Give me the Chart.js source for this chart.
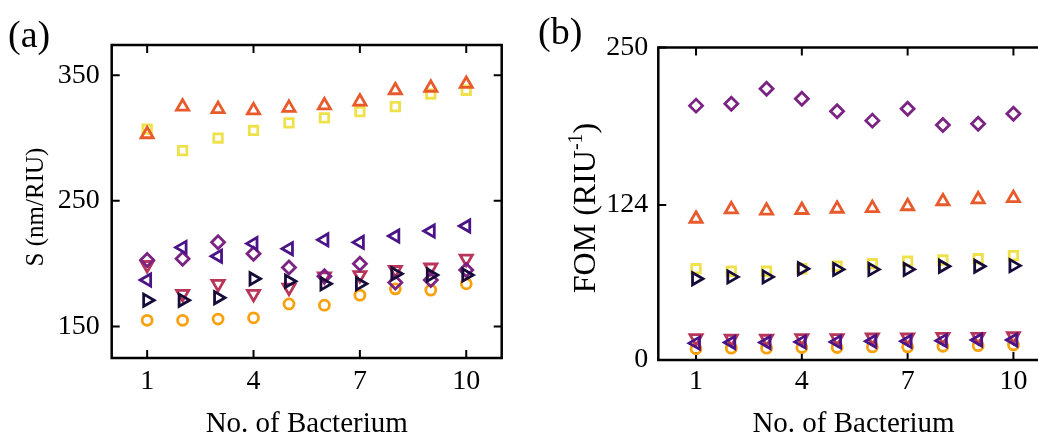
<!DOCTYPE html>
<html>
<head>
<meta charset="utf-8">
<script src="https://cdn.jsdelivr.net/npm/chart.js@4.4.0/dist/chart.umd.min.js"></script>
<style>
  html, body { margin: 0; padding: 0; background: #fff; overflow: hidden; width: 1038px; height: 442px; }
  .panel { position: absolute; top: 0; width: 530px; height: 442px; }
  #wrapA { left: 0; }
  #wrapB { left: 530px; }
</style>
</head>
<body>
<div class="panel" id="wrapA"><canvas id="chartA" width="530" height="442"></canvas></div>
<div class="panel" id="wrapB"><canvas id="chartB" width="530" height="442"></canvas></div>
<script>
const bacteria = [1, 2, 3, 4, 5, 6, 7, 8, 9, 10];
const xTicks = [1, 4, 7, 10];

// (a) sensitivity S (nm/RIU)
const sTicks = [150, 250, 350];
const sSquare = [307, 290, 300, 306, 312, 316, 321, 325, 335, 338];
const sUp = [303, 325, 323, 322, 324, 326, 329, 338, 340, 343];
const sLeft = [187, 213, 206, 216, 212, 219, 217, 222, 226, 230];
const sDiamond = [203, 204, 217, 208, 197, 190, 200, 185, 187, 195];
const sDown = [199, 176, 184, 176, 181, 190, 191, 195, 197, 204];
const sRight = [171, 171, 173, 188, 186, 184, 184, 192, 191, 191];
const sCircle = [155, 155, 156, 157, 168, 167, 175, 180, 179, 184];

// (b) figure of merit FOM (RIU^-1)
const fomTicks = [0, 124, 250];
const fomDiamond = [203.5, 205, 217, 209, 199, 191.5, 201, 188, 189, 197];
const fomUp = [113, 120.5, 119.5, 120, 121, 121.5, 123, 127, 128.5, 129.5];
const fomSquare = [73, 71, 71, 73, 75, 77, 79, 80, 81, 83.5];
const fomRight = [65, 66.5, 66.5, 73, 72.5, 72.5, 72.5, 75, 75, 75.5];
const fomDown = [17.5, 17, 17, 17.5, 17.5, 18, 18, 18.5, 18.5, 19];
const fomLeft = [13.5, 14, 14, 14.5, 14.5, 15, 15, 15.5, 16, 16];
const fomCircle = [9, 9.5, 9.5, 10, 10, 10.5, 10.5, 11, 11.5, 12];

const serif = "'Liberation Serif', 'Times New Roman', serif";

function series(values, style, rotation, radius, color) {
  return {
    data: values.map((v, i) => ({ x: bacteria[i], y: v })),
    pointStyle: style,
    pointRotation: rotation,
    pointRadius: radius,
    pointBorderColor: color,
    pointBackgroundColor: "rgba(0,0,0,0)",
    pointBorderWidth: 2.8,
    showLine: false
  };
}

// first dataset is drawn on top
function allSeries(right, left, up, diamond, down, square, circle) {
  return [
    series(right, "triangle", 90, 7, "#170b3a"),
    series(left, "triangle", -90, 7, "#4a1486"),
    series(up, "triangle", 0, 7, "#e8592b"),
    series(diamond, "rectRot", 0, 6.5, "#7b2382"),
    series(down, "triangle", 180, 7, "#b8365a"),
    series(square, "rect", 0, 6, "#efe14c"),
    series(circle, "circle", 0, 5, "#f8a10c")
  ];
}

// box around the plot with inward tick marks on all four sides
const framePlugin = {
  id: "frame",
  beforeDatasetsDraw(chart) {
    const { ctx, chartArea: a, scales } = chart;
    const len = 8;
    ctx.save();
    ctx.strokeStyle = "#000";
    ctx.lineWidth = 2.5;
    ctx.strokeRect(a.left, a.top, a.right - a.left, a.bottom - a.top);
    ctx.lineWidth = 2;
    ctx.beginPath();
    scales.x.ticks.forEach(t => {
      const px = scales.x.getPixelForValue(t.value);
      ctx.moveTo(px, a.bottom); ctx.lineTo(px, a.bottom - len);
      ctx.moveTo(px, a.top); ctx.lineTo(px, a.top + len);
    });
    scales.y.ticks.forEach(t => {
      const py = scales.y.getPixelForValue(t.value);
      ctx.moveTo(a.left, py); ctx.lineTo(a.left + len, py);
      ctx.moveTo(a.right, py); ctx.lineTo(a.right - len, py);
    });
    ctx.stroke();
    ctx.restore();
  },
  afterDraw(chart, args, opts) {
    const ctx = chart.ctx;
    ctx.save();
    ctx.fillStyle = "#000";
    ctx.font = "38px " + serif;
    ctx.textBaseline = "alphabetic";
    ctx.fillText(opts.tag, 8, opts.tagY);

    // rotated y title, optional superscript part
    const t = opts.yTitle;
    ctx.translate(t.x, t.y);
    ctx.rotate(-Math.PI / 2);
    ctx.textBaseline = "middle";
    const big = t.size + "px " + serif;
    const small = Math.round(t.size * 0.62) + "px " + serif;
    ctx.font = big;
    const w1 = ctx.measureText(t.main).width;
    const w3 = ctx.measureText(t.end).width;
    ctx.font = small;
    const w2 = ctx.measureText(t.sup).width;
    let x = -(w1 + w2 + w3) / 2;
    ctx.font = big;
    ctx.fillText(t.main, x, 0);
    x += w1;
    ctx.font = small;
    ctx.fillText(t.sup, x, -t.size * 0.32);
    x += w2;
    ctx.font = big;
    ctx.fillText(t.end, x, 0);
    ctx.restore();
  }
};

function makeChart(id, datasets, cfg) {
  return new Chart(document.getElementById(id), {
    type: "scatter",
    data: { datasets },
    plugins: [framePlugin],
    options: {
      responsive: false,
      animation: false,
      events: [],
      layout: { padding: { top: cfg.top, right: cfg.right, left: 0, bottom: 0 } },
      plugins: {
        legend: { display: false },
        tooltip: { enabled: false },
        frame: { tag: cfg.tag, tagY: cfg.tagY, yTitle: cfg.yTitle }
      },
      scales: {
        x: {
          type: "linear",
          min: cfg.xMin,
          max: 11,
          afterBuildTicks: s => { s.ticks = xTicks.map(v => ({ value: v })); },
          afterFit: s => { s.height = cfg.xHeight; },
          grid: { display: false, drawTicks: false },
          border: { display: false },
          ticks: { color: "#000", padding: cfg.xPad, maxRotation: 0, font: { family: serif, size: 28 } },
          title: {
            display: true,
            text: "No. of Bacterium",
            color: "#000",
            padding: { top: 0, bottom: 0 },
            font: { family: serif, size: 29 }
          }
        },
        y: {
          type: "linear",
          min: cfg.yMin,
          max: cfg.yMax,
          afterBuildTicks: s => { s.ticks = cfg.yTicks.map(v => ({ value: v })); },
          afterFit: s => { s.width = cfg.yWidth; },
          grid: { display: false, drawTicks: false },
          border: { display: false },
          ticks: { color: "#000", padding: cfg.yPad, font: { family: serif, size: 28 } }
        }
      }
    }
  });
}

makeChart("chartA", allSeries(sRight, sLeft, sUp, sDiamond, sDown, sSquare, sCircle), {
  top: 45, right: 28.3, xMin: 0, xHeight: 84, xPad: 7,
  yMin: 125, yMax: 374, yTicks: sTicks, yWidth: 111.7, yPad: 12,
  tag: "(a)", tagY: 47,
  yTitle: { x: 36, y: 207, size: 25, main: "S (nm/RIU)", sup: "", end: "" }
});

makeChart("chartB", allSeries(fomRight, fomLeft, fomUp, fomDiamond, fomDown, fomSquare, fomCircle), {
  top: 47.5, right: 11.3, xMin: -0.07, xHeight: 82, xPad: 5,
  yMin: 0, yMax: 250, yTicks: fomTicks, yWidth: 128.3, yPad: 10,
  tag: "(b)", tagY: 44,
  yTitle: { x: 57, y: 208, size: 32, main: "FOM (RIU", sup: "-1", end: ")" }
});
</script>
</body>
</html>
